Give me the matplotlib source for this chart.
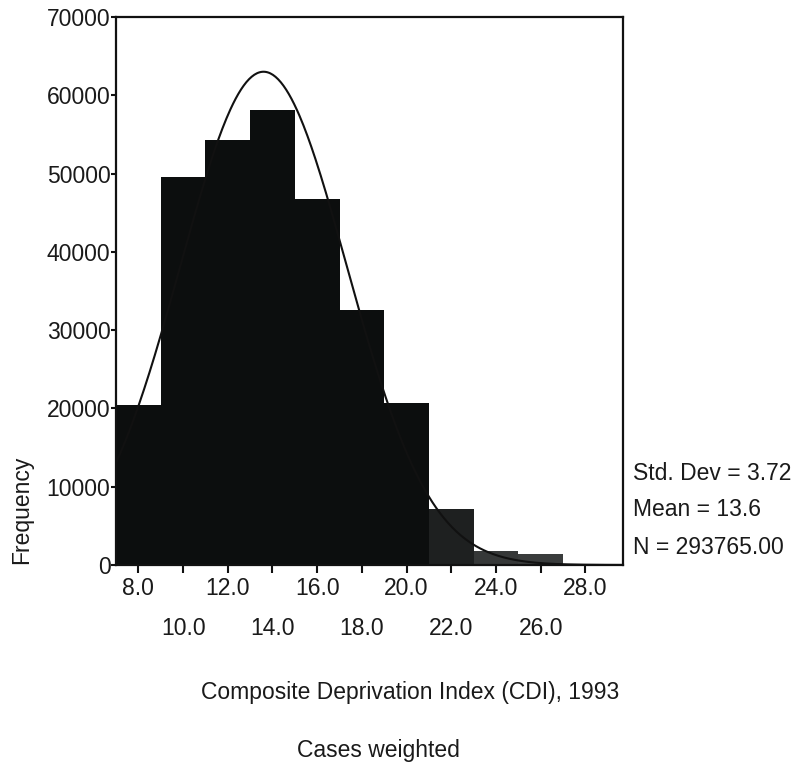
import numpy as np
import matplotlib
matplotlib.use("Agg")
import matplotlib.pyplot as plt

plt.rcParams['font.family'] = ['Liberation Sans', 'DejaVu Sans']

# Histogram of the Composite Deprivation Index (weighted cases)
bin_centers = [8, 10, 12, 14, 16, 18, 20, 22, 24, 26]
frequencies = [20400, 49500, 54300, 58100, 46800, 32600, 20700, 7100, 1800, 1350]
bar_colors = ['#0c0e0e'] * 7 + ['#1e2020', '#363838', '#3a3c3c']
bin_width = 2.0

std_dev = 3.72
mean = 13.6
n_cases = 293765.00

tick_values = [8, 10, 12, 14, 16, 18, 20, 22, 24, 26, 28]
y_ticks = [0, 10000, 20000, 30000, 40000, 50000, 60000, 70000]

fig = plt.figure(figsize=(7.96, 7.63), dpi=100)
W, H = 796, 763
left, right, top, bottom = 116, 623, 17, 565
ax = fig.add_axes([left / W, 1 - bottom / H, (right - left) / W, (bottom - top) / H])

ax.bar(bin_centers, frequencies, width=bin_width, color=bar_colors,
       edgecolor='none', linewidth=0, zorder=2)

# Fitted normal curve
xs = np.linspace(6.0, 29.7, 400)
pdf = np.exp(-0.5 * ((xs - mean) / std_dev) ** 2) / (std_dev * np.sqrt(2 * np.pi))
ax.plot(xs, n_cases * bin_width * pdf, color='#111111', lw=1.5, zorder=3)

ax.set_xlim(7.0, 29.68)
ax.set_ylim(0, 70000)

ax.set_yticks(y_ticks)
ax.set_yticklabels([str(v) for v in y_ticks])
ax.set_xticks(tick_values)
labels = []
for i, v in enumerate(tick_values):
    labels.append(f"{v:.1f}" if i % 2 == 0 else f"\n{v:.1f}")
ax.set_xticklabels(labels, linespacing=1.95)

ax.tick_params(axis='both', direction='out', width=1.5,
               labelsize=16.5, color='#111111', labelcolor='#1a1a1a')
ax.tick_params(axis='x', length=5.5, pad=3)
ax.tick_params(axis='y', length=3.5, pad=0.5)
for s in ax.spines.values():
    s.set_linewidth(1.6)
    s.set_color('#111111')

fs = 16.5
fig.text(22 / W, 1 - 510 / H, 'Frequency', rotation=90, ha='center',
         va='center', fontsize=fs, color='#1a1a1a')
fig.text(410 / W, 1 - 693 / H, 'Composite Deprivation Index (CDI), 1993',
         ha='center', va='center', fontsize=fs, color='#1a1a1a')
fig.text(378 / W, 1 - 750 / H, 'Cases weighted', ha='center', va='center',
         fontsize=fs, color='#1a1a1a')

stats = [f"Std. Dev = {std_dev:.2f}", f"Mean = {mean:.1f}", f"N = {n_cases:.2f}"]
for txt, yy in zip(stats, [473, 509, 548]):
    fig.text(633 / W, 1 - yy / H, txt, ha='left', va='center', fontsize=fs,
             color='#1a1a1a')

fig.savefig('out.png', dpi=100)
